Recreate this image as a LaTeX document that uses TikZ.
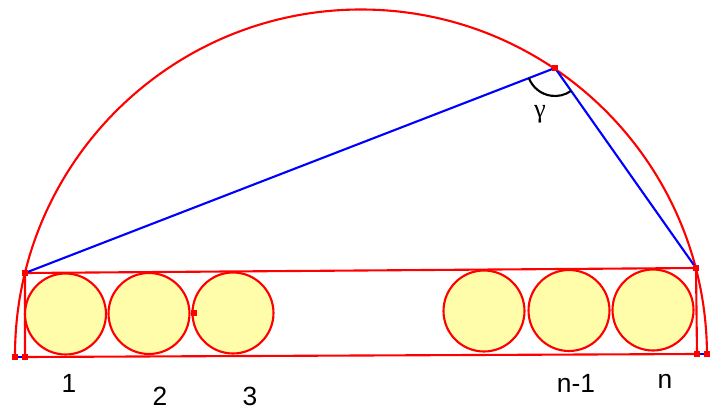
\documentclass[tikz,border=0pt]{standalone}
\usepackage{fontspec}
\setmainfont{Liberation Sans}
\newfontfamily\gammafont{Liberation Serif}
\usetikzlibrary{calc,positioning}
\definecolor{ballfill}{RGB}{255,252,170}

\begin{document}
\begin{tikzpicture}[x=0.02cm, y=0.02cm,
    ball/.style={circle, draw=red, fill=ballfill, line width=1.2pt, minimum size=1.62cm, inner sep=0pt},
    sq/.style={fill=red, inner sep=0pt, minimum size=0.11cm},
    num/.style={font=\fontsize{15}{17}\selectfont, anchor=base}]
    \useasboundingbox (0,0) rectangle (717,410);

    % Corner points
    \coordinate (L1) at (15,53);
    \coordinate (L2) at (25,53);
    \coordinate (R1) at (697,56);
    \coordinate (R2) at (707,56);
    \coordinate (A) at (25,137);
    \coordinate (B) at (696,142);
    \coordinate (C) at (555,342);
    \coordinate (T) at (194,97);

    % Half circle and box
    \draw[red, line width=1.2pt] (L1) arc[start angle=180.25, end angle=0.25, radius=346];
    \draw[red, line width=1.2pt] (A) -- (B) -- (R1) -- (L2) -- cycle;

    % Triangle
    \draw[blue, line width=1.2pt] (A) -- (C) -- (B);
    \draw[blue, line width=1.2pt] (L1) -- (L2);
    \draw[blue, line width=1.2pt] (R1) -- (R2);
    \draw[black, line width=1.2pt] ($(C)+(201.15:28)$) arc[start angle=201.15, end angle=305.2, radius=28];
    \node[font=\gammafont\fontsize{15}{17}\selectfont] (gam) at (540,296) {γ};

    % Balls
    \foreach \n/\x/\y in {1/65.5/96, 2/149/96.5, 3/233/97, 4/484/99, 5/569/99.5, 6/653/100}
      \node[ball] (c\n) at (\x,\y) {};

    % Markers
    \foreach \p in {A,B,C,L1,L2,R1,R2,T}
      \node[sq] (m\p) at (\p) {};

    % Labels
    \node[num] (l1) at (69,18) {1};
    \node[num] (l2) at (160,5) {2};
    \node[num] (l3) at (250,5) {3};
    \node[num] (l5) at (576,18) {n-1};
    \node[num] (l6) at (665,22) {n};
\end{tikzpicture}
\end{document}
